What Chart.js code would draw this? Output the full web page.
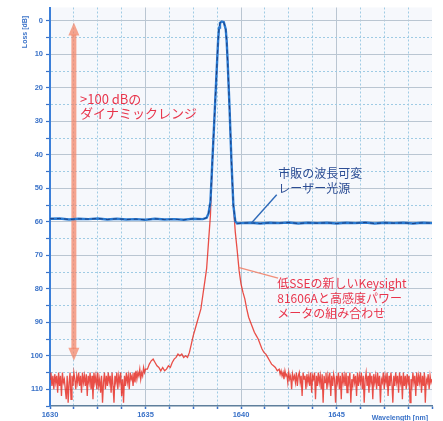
<!DOCTYPE html>
<html><head><meta charset="utf-8">
<script src="https://cdn.jsdelivr.net/npm/chart.js@4/dist/chart.umd.min.js"></script>
<style>html,body{margin:0;padding:0;background:#fff;}</style>
</head><body>
<canvas id="c" width="443" height="421"></canvas>
<script>
// ---- data ----
const xTickValues = [1630,1631.25,1632.5,1633.75,1635,1636.25,1637.5,1638.75,1640,1641.25,1642.5,1643.75,1645,1646.25,1647.5,1648.75,1650];
const xLabelValues = [1630,1635,1640,1645];
const yTickValues = [0,5,10,15,20,25,30,35,40,45,50,55,60,65,70,75,80,85,90,95,100,105,110,115];
const yLabelValues = [0,10,20,30,40,50,60,70,80,90,100,110];

// tunable laser (blue)
const blueX = [1630,1630.5,1631,1631.5,1632,1632.5,1633,1633.5,1634,1634.5,1635,1635.5,1636,1636.5,1637,1637.5,1638,
  1638.2,1638.3,1638.4,1638.5,1638.6,1638.7,1638.8,1638.85,1638.9,1639.0,1639.1,1639.2,1639.25,1639.3,1639.4,1639.5,1639.6,1639.7,1639.8,
  1640,1640.5,1641,1641.5,1642,1642.5,1643,1643.5,1644,1644.5,1645,1645.5,1646,1646.5,1647,1647.5,1648,1648.5,1649,1649.5,1650];
const blueY = [59.1,59.0,59.3,59.1,59.2,59.0,59.3,59.1,59.3,59.2,59.4,59.1,59.3,59.2,59.4,59.1,59.2,
  58.8,57.5,54,42,30,18,6,2,0.6,0.2,0.4,2.5,6,12,26,42,55,59.8,60.5,
  60.4,60.3,60.5,60.3,60.4,60.2,60.5,60.3,60.4,60.3,60.5,60.3,60.4,60.2,60.5,60.3,60.4,60.3,60.5,60.3,60.4];

// low-SSE source (red): noise floor left, 1630.00..1635.00 every 0.05 nm
const redLeftStart = 1630.0;
const redStep = 0.05;
const redNoiseLeft = [
  107,105,109,106,110,105.5,108,106,111,105,
  109,106,112,105,108,107,110,113,106,114,
  108,105,113,106,109,105,107,110,106,108,
  105,109,106,111,105,108,106,109,105.5,112,
  106,108,105,110,106,113,105,108,106,110,
  105,109,107,111,106,114,108,105,110,106,
  109,105,108,106,111,105,109,114,106,108,
  105,110,106,108,105,112,107,114,106,109,
  105,108,106,110,105,107,106,109,105,108,
  104.5,107,105,106,104,107,105,106,103.5,105,
  104];
// shoulder and peak
const redPeakX = [1635.1,1635.2,1635.3,1635.4,1635.5,1635.6,1635.7,1635.8,1635.9,1636.0,1636.1,1636.2,1636.3,1636.4,1636.5,1636.6,1636.7,1636.8,1636.9,
  1637.0,1637.1,1637.2,1637.3,1637.4,1637.5,1637.6,1637.7,1637.8,1637.9,1638.0,1638.1,1638.2,1638.3,1638.4,1638.5,1638.6,1638.7,1638.8,1638.85,1638.9,
  1639.0,1639.1,1639.2,1639.25,1639.3,1639.4,1639.5,1639.6,1639.7,1639.8,1639.9,1640.0,1640.1,1640.2,1640.3,1640.4,1640.5,1640.6,1640.7,1640.8,1640.9,
  1641.0,1641.1,1641.2,1641.3,1641.4,1641.5,1641.6,1641.7,1641.8,1641.9];
const redPeakY = [104,102.5,101.5,101,102,103,103.5,104.5,103.5,104.5,104,103,103.5,102,101,100.5,99.5,100,99.5,
  100.5,100,100.5,99,96.5,94,92,90,88,86,82,78,74,66,58,42,30,18,6,2,0.6,
  0.2,0.4,2.5,6,12,26,42,55,63,68.5,74.5,78.5,81,83,86,88.5,90,91.5,93,94,95,
  96.5,98,99,99.5,100.5,101.5,102.5,103,103.5,104.5];
// noise floor right, 1642.00..1650.00 every 0.05 nm
const redRightStart = 1642.0;
const redNoiseRight = [
  104,105.5,104.5,106,105,107,104.5,106,105.5,108,
  105,107,106,110,105.5,107,106,108,105,109,
  106,105,108,106,112,105,107,106,110,105.5,
  108,106,109,105,111,106,107,105,113,106,
  109,105,108,106,110,105.5,114,106,108,105,
  110,106,108,105,112,106,109,105.5,107,114,
  106,108,105,110,106,113,105,108,106,109,
  105,111,106,108,105,114,107,109,105.5,108,
  106,112,105,109,106,108,105,110,106,114,
  107,105,109,106,111,105,108,106,113,105.5,
  108,106,110,105,109,106,114,107,108,105,
  110,106,108,105,112,106,109,105,108,114,
  106,109,105,108,106,111,105,108,106,113,
  105,109,106,110,105.5,108,106,114,107,109,
  105,108,106,112,105,109,106,108,105,111,
  106,109,105,114,107,108,105.5,110,106,108,
  107];

// ---- build points ----
const bluePts = blueX.map((x,i)=>({x, y: blueY[i]}));
const redPts = [];
redNoiseLeft.forEach((y,i)=>redPts.push({x: +(redLeftStart + i*redStep).toFixed(2), y}));
redPeakX.forEach((x,i)=>redPts.push({x, y: redPeakY[i]}));
redNoiseRight.forEach((y,i)=>redPts.push({x: +(redRightStart + i*redStep).toFixed(2), y}));

// ---- annotation config (data coordinates) ----
const arrowCfg = {x: 1631.25, yTop: 0.5, yBottom: 101.5};
const blueLeader = {x1: 1640.56, y1: 60.3, x2: 1641.87, y2: 51.9};
const redLeader = {x1: 1639.86, y1: 73.6, x2: 1641.94, y2: 76.8};
const notes = [
  {x: 1631.57, y: [23.2, 27.6], lines: ['>100 dBの','ダイナミックレンジ'], color: '#e8354c', size: 13},
  {x: 1641.95, y: [45.5, 49.9], lines: ['市販の波長可変','レーザー光源'], color: '#2c4d94', size: 12},
  {x: 1641.9, y: [78.4, 83.0, 87.5], lines: ['低SSEの新しいKeysight','81606Aと高感度パワー','メータの組み合わせ'], color: '#e8354c', size: 12}
];

const AXIS_BLUE = '#3a72c8';
const SOLID_GRID = '#bac6d2';
const DOT_GRID = '#9fcbe4';

const bgPlugin = {
  id: 'bg',
  beforeDraw(chart) {
    const {ctx, chartArea: a} = chart;
    ctx.save();
    ctx.fillStyle = '#ffffff';
    ctx.fillRect(0,0,chart.width,chart.height);
    ctx.fillStyle = '#f6f8fc';
    ctx.fillRect(a.left, a.top, a.right-a.left, a.bottom-a.top);
    ctx.restore();
  }
};

const arrowPlugin = {
  id: 'arrow',
  beforeDatasetsDraw(chart) {
    const {ctx, scales: {x, y}} = chart;
    const px = x.getPixelForValue(arrowCfg.x);
    const top = y.getPixelForValue(arrowCfg.yTop);
    const bot = y.getPixelForValue(arrowCfg.yBottom);
    const head = 13, hw = 5.5;
    ctx.save();
    ctx.fillStyle = 'rgba(244,130,100,0.72)';
    ctx.fillRect(px-2.5, top+head-1, 5, bot-top-2*head+2);
    ctx.beginPath();
    ctx.moveTo(px, top); ctx.lineTo(px+hw, top+head); ctx.lineTo(px-hw, top+head); ctx.closePath(); ctx.fill();
    ctx.beginPath();
    ctx.moveTo(px, bot); ctx.lineTo(px+hw, bot-head); ctx.lineTo(px-hw, bot-head); ctx.closePath(); ctx.fill();
    ctx.restore();
  }
};

const notePlugin = {
  id: 'notes',
  afterDatasetsDraw(chart) {
    const {ctx, scales: {x, y}, chartArea: a} = chart;
    ctx.save();
    ctx.lineWidth = 1.4;
    ctx.strokeStyle = '#2f6ab8';
    ctx.beginPath();
    ctx.moveTo(x.getPixelForValue(blueLeader.x1), y.getPixelForValue(blueLeader.y1));
    ctx.lineTo(x.getPixelForValue(blueLeader.x2), y.getPixelForValue(blueLeader.y2));
    ctx.stroke();
    ctx.strokeStyle = 'rgba(240,125,100,0.85)';
    ctx.beginPath();
    ctx.moveTo(x.getPixelForValue(redLeader.x1), y.getPixelForValue(redLeader.y1));
    ctx.lineTo(x.getPixelForValue(redLeader.x2), y.getPixelForValue(redLeader.y2));
    ctx.stroke();
    ctx.textBaseline = 'middle';
    ctx.textAlign = 'left';
    notes.forEach(n => {
      ctx.font = n.size + 'px "Noto Sans CJK JP", "Noto Sans", sans-serif';
      ctx.fillStyle = n.color;
      n.lines.forEach((t,i) => ctx.fillText(t, x.getPixelForValue(n.x), y.getPixelForValue(n.y[i])));
    });
    ctx.fillStyle = AXIS_BLUE;
    ctx.font = 'bold 7px "Liberation Sans", Arial, sans-serif';
    ctx.textAlign = 'right';
    ctx.textBaseline = 'alphabetic';
    ctx.fillText('Wavelength [nm]', a.right - 4, 421 - 1);
    ctx.translate(25, 32);
    ctx.rotate(-Math.PI/2);
    ctx.textAlign = 'center';
    ctx.textBaseline = 'middle';
    ctx.fillText('Loss [dB]', 0, 0);
    ctx.restore();
  }
};

new Chart(document.getElementById('c'), {
  type: 'line',
  data: {
    datasets: [
      {label: 'blue-dash', data: bluePts, borderColor: 'rgba(25,55,120,0.9)', borderWidth: 1, borderDash: [4,3],
        pointRadius: 0, tension: 0},
      {label: 'tunable laser', data: bluePts, borderColor: '#2b7cd3', borderWidth: 2.4,
        pointRadius: 0, tension: 0},
      {label: '81606A', data: redPts, borderColor: 'rgba(230,35,25,0.8)', borderWidth: 1.3,
        pointRadius: 0, tension: 0}
    ]
  },
  options: {
    responsive: false,
    devicePixelRatio: 1,
    animation: false,
    events: [],
    layout: {padding: {top: 5, right: 11, left: 0, bottom: 0}},
    plugins: {legend: {display: false}, tooltip: {enabled: false}},
    scales: {
      x: {
        type: 'linear', min: 1630, max: 1650,
        afterBuildTicks: s => { s.ticks = xTickValues.map(v => ({value: v})); },
        afterFit: s => { s.height = 15; },
        ticks: {
          autoSkip: false, maxRotation: 0, padding: 1,
          color: AXIS_BLUE, font: {size: 7.5, weight: 'bold', family: '"Liberation Sans", Arial, sans-serif'},
          callback: v => xLabelValues.includes(v) ? String(v) : ''
        },
        grid: {
          color: c => {
            const v = c.tick ? c.tick.value : null;
            if (v === null || v === 1630 || v === 1650) return 'rgba(0,0,0,0)';
            return (v % 5 === 0) ? SOLID_GRID : DOT_GRID;
          },
          lineWidth: 1, tickLength: 3, tickColor: AXIS_BLUE, tickWidth: 1.5
        },
        border: {color: '#5f7f9c', width: 1.5,
          dash: c => (c.tick && c.tick.value % 5 !== 0) ? [2,2] : []}
      },
      y: {
        type: 'linear', reverse: true, min: -4, max: 115,
        afterBuildTicks: s => { s.ticks = yTickValues.map(v => ({value: v})); },
        afterFit: s => { s.width = 50; },
        ticks: {
          autoSkip: false, padding: 3,
          color: AXIS_BLUE, font: {size: 7.5, weight: 'bold', family: '"Liberation Sans", Arial, sans-serif'},
          callback: v => yLabelValues.includes(v) ? String(v) : ''
        },
        grid: {
          color: c => {
            const v = c.tick ? c.tick.value : null;
            if (v === null || v >= 115) return 'rgba(0,0,0,0)';
            return (v % 10 === 0) ? SOLID_GRID : DOT_GRID;
          },
          lineWidth: 1, tickLength: 4, tickColor: AXIS_BLUE, tickWidth: 1.2
        },
        border: {color: '#3b7fd9', width: 2,
          dash: c => (c.tick && c.tick.value % 10 !== 0) ? [2,2] : []}
      }
    }
  },
  plugins: [bgPlugin, arrowPlugin, notePlugin]
});
</script>
</body></html>
